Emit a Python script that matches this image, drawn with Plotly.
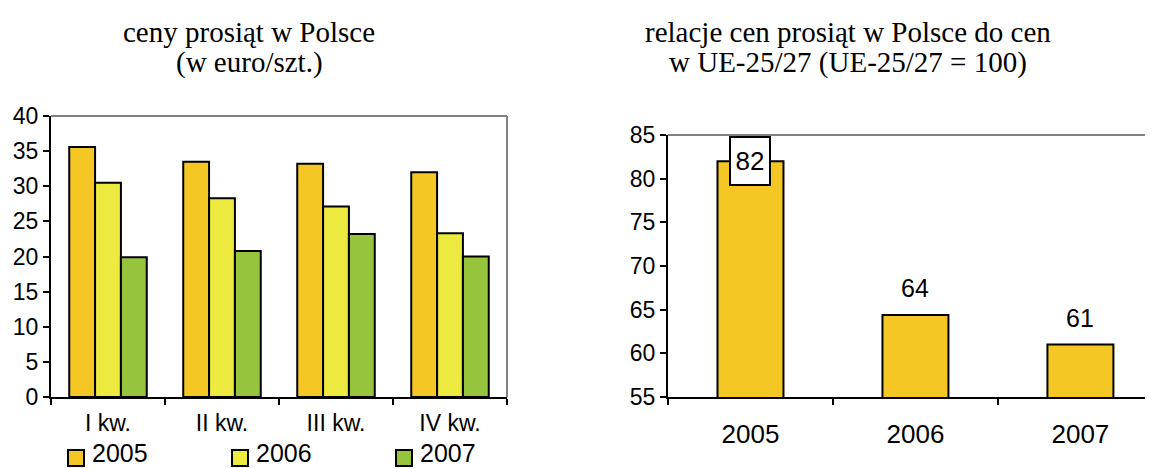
import plotly.graph_objects as go

# left chart: piglet prices in Poland (euro/head)
quarters = ["I kw.", "II kw.", "III kw.", "IV kw."]
years = ["2005", "2006", "2007"]
prices = {
    "2005": [35.6, 33.5, 33.2, 32.0],
    "2006": [30.5, 28.3, 27.1, 23.3],
    "2007": [19.9, 20.8, 23.2, 20.0],
}
colors = {"2005": "#F5C724", "2006": "#ECEA3E", "2007": "#96C43C"}

# right chart: PL prices relative to EU-25/27 (=100)
rel_years = ["2005", "2006", "2007"]
rel_values = [82.0, 64.4, 61.0]
rel_labels = ["82", "64", "61"]

# page body has an 8px margin, so the figure is a bit smaller than the window
OFF = 8
W, H = 1153 - OFF, 468 - OFF
SANS = "Liberation Sans, Arial, sans-serif"
SERIF = "Liberation Serif, Times New Roman, serif"


def px_x(p):
    # screen pixel -> paper fraction
    return (p - OFF) / W


def px_y(p):
    return 1 - (p - OFF) / H


fig = go.Figure()

for yr in years:
    fig.add_trace(go.Bar(
        x=quarters, y=prices[yr], name=yr, showlegend=False,
        marker=dict(color=colors[yr], line=dict(color="black", width=2)),
        xaxis="x", yaxis="y",
    ))

fig.add_trace(go.Bar(
    x=rel_years, y=rel_values, width=0.4, showlegend=False,
    marker=dict(color="#F5C724", line=dict(color="black", width=2)),
    xaxis="x2", yaxis="y2",
))

axis_common = dict(
    showgrid=False, zeroline=False, showline=True, linecolor="black", linewidth=2,
    ticks="outside", ticklen=6, tickwidth=2, tickcolor="black",
)

fig.update_layout(
    width=W, height=H,
    margin=dict(l=0, r=0, t=0, b=0, autoexpand=False),
    plot_bgcolor="white", paper_bgcolor="white",
    barmode="group", bargap=0.32, bargroupgap=0,
    showlegend=False,
    xaxis=dict(domain=[px_x(51), px_x(507)], anchor="y", type="category",
               tickson="boundaries", ticklabelstandoff=4,
               tickfont=dict(family=SANS, size=23, color="black"), **axis_common),
    yaxis=dict(domain=[px_y(397), px_y(116)], anchor="x", range=[0, 40],
               dtick=5, tickfont=dict(family=SANS, size=23, color="black"),
               **axis_common),
    xaxis2=dict(domain=[px_x(668), 1.0], anchor="y2", type="category",
                range=[-0.5, 2.44], tickson="boundaries", ticklabelstandoff=13,
                tickfont=dict(family=SANS, size=26, color="black"), **axis_common),
    yaxis2=dict(domain=[px_y(397), px_y(135)], anchor="x2", range=[55, 85],
                dtick=5, tickfont=dict(family=SANS, size=23, color="black"),
                **axis_common),
    font=dict(family=SANS, color="black"),
)

# plot-area borders (gray) on top / right
fig.add_shape(type="line", xref="x domain", yref="y domain", x0=0, x1=1, y0=1, y1=1,
              line=dict(color="#808080", width=2))
fig.add_shape(type="line", xref="x domain", yref="y domain", x0=1, x1=1, y0=0, y1=1,
              line=dict(color="#808080", width=2))
fig.add_shape(type="line", xref="x2 domain", yref="y2 domain", x0=0, x1=1, y0=1, y1=1,
              line=dict(color="#808080", width=2))

# titles, one annotation per line
titles = [
    (249, ["ceny prosiąt w Polsce", "(w euro/szt.)"]),
    (848, ["relacje cen prosiąt w Polsce do cen", "w UE-25/27 (UE-25/27 = 100)"]),
]
for cx, lines in titles:
    for ly, line in zip([32, 63], lines):
        fig.add_annotation(text=line, x=px_x(cx), y=px_y(ly), xref="paper", yref="paper",
                           showarrow=False, xanchor="center", yanchor="middle",
                           font=dict(family=SERIF, size=29, color="black"))

# data labels on right chart (category index positions)
for i, (v, lab) in enumerate(zip(rel_values, rel_labels)):
    if i == 0:
        fig.add_annotation(x=i, y=v, xref="x2", yref="y2", text=lab, showarrow=False,
                           yanchor="middle", bgcolor="white", bordercolor="black",
                           borderwidth=2, borderpad=1, width=36, height=44,
                           font=dict(family=SANS, size=26, color="black"))
    else:
        fig.add_annotation(x=i, y=v, xref="x2", yref="y2", text=lab, showarrow=False,
                           yanchor="middle", yshift=27,
                           font=dict(family=SANS, size=25, color="black"))

# legend drawn by hand (square swatch + label)
legend_x = [68, 232, 396]
for yr, lx in zip(years, legend_x):
    fig.add_shape(type="rect", xref="paper", yref="paper",
                  x0=px_x(lx), x1=px_x(lx + 16), y0=px_y(466), y1=px_y(450),
                  fillcolor=colors[yr], line=dict(color="black", width=2))
    fig.add_annotation(text=yr, x=px_x(lx + 22), y=px_y(469), xref="paper", yref="paper",
                       showarrow=False, xanchor="left", yanchor="bottom",
                       font=dict(family=SANS, size=25, color="black"))

fig.write_html("out.html")
